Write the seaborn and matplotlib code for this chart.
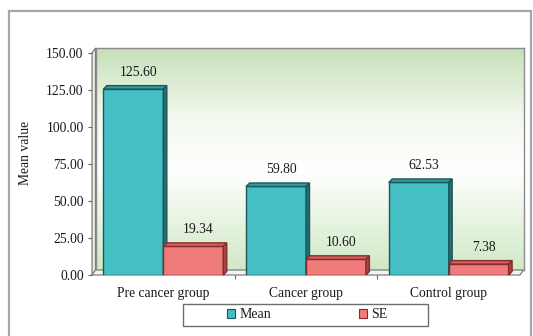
import numpy as np
import pandas as pd
import seaborn as sns
import matplotlib
matplotlib.use("Agg")
import matplotlib.pyplot as plt
from matplotlib.patches import Polygon, Rectangle, Patch
from matplotlib.transforms import IdentityTransform
from matplotlib.colors import LinearSegmentedColormap

# ---- data ----
groups = ["Pre cancer group", "Cancer group", "Control group"]
stats = ["Mean", "SE"]
mean_values = [125.60, 59.80, 62.53]
se_values = [19.34, 10.60, 7.38]
y_ticks = [0, 25, 50, 75, 100, 125, 150]

face_colors = {"Mean": "#45bfc4", "SE": "#f07b7b"}
edge_colors = {"Mean": "#1d5658", "SE": "#842c2c"}
top_colors = {"Mean": "#2f9ca1", "SE": "#d95f5f"}
side_colors = {"Mean": "#1f7074", "SE": "#a94444"}

df = pd.DataFrame({
    "group": groups * 2,
    "stat": ["Mean"] * 3 + ["SE"] * 3,
    "value": mean_values + se_values,
})

W, H = 533, 336
sns.set_theme(style="white")
plt.rcParams["font.family"] = ["Liberation Serif", "DejaVu Serif"]
fig = plt.figure(figsize=(W / 100, H / 100), dpi=100)
fig.patch.set_facecolor("white")
TXT = "#1a1a1a"

def px(x, y):
    """figure pixel position measured from the top-left corner -> display coords"""
    return (x, H - y)

# axes frame in pixels (left, top, right, bottom)
L, T, R, B = 92, 53, 520, 275
DX, DY = 3.5, 5  # depth of the back wall

# back wall with a vertical green-white-green gradient
wall = fig.add_axes([(L + DX) / W, (H - (B - DY)) / H, (R - L) / W, (B - T) / H], zorder=-1)
cmap = LinearSegmentedColormap.from_list(
    "wall", [(0.0, "#d0e9c6"), (0.45, "#ffffff"), (0.7, "#f2f8ee"), (1.0, "#c6e0b9")])
grad = np.linspace(0, 1, 256).reshape(-1, 1)
wall.imshow(grad, aspect="auto", cmap=cmap, origin="lower", extent=[0, 1, 0, 1])
wall.set_xticks([]); wall.set_yticks([])
for s in wall.spines.values():
    s.set_color("#8c8c8c"); s.set_linewidth(1.0)

ax = fig.add_axes([L / W, (H - B) / H, (R - L) / W, (B - T) / H], zorder=1)
ax.set_facecolor("none")

sns.barplot(data=df, x="group", y="value", hue="stat", order=groups, hue_order=stats,
            palette=[face_colors[s] for s in stats], width=0.84, gap=0, saturation=1,
            linewidth=1.0, legend=False, ax=ax)

ax.set_xlim(-0.5, 2.5)
ax.set_ylim(0, 150)
ax.set_xlabel("")
ax.set_ylabel("")
for s in ax.spines.values():
    s.set_visible(False)

# y axis
ax.set_yticks(y_ticks)
ax.set_yticklabels([f"{v:.2f}" for v in y_ticks], fontsize=9.8, color=TXT)
ax.tick_params(axis="y", which="major", left=True, length=3, width=0.8, color="#666666", pad=3)
# x axis: labels at centres, small marks at category boundaries
ax.set_xticks(range(len(groups)))
ax.set_xticklabels(groups, fontsize=9.8, color=TXT)
ax.tick_params(axis="x", which="major", bottom=False, length=0, pad=9)
ax.set_xticks([0.5, 1.5], minor=True)
ax.tick_params(axis="x", which="minor", bottom=True, length=3, width=0.8, color="#666666")

idt = IdentityTransform()
# left side wall and floor
side = Polygon([px(L, B), px(L, T), px(L + DX, T - DY), px(L + DX, B - DY)], closed=True,
               transform=idt, facecolor="#e4eedd", edgecolor="#7f7f7f", linewidth=0.9,
               clip_on=False, zorder=0.5)
floor = Polygon([px(L, B), px(R, B), px(R + DX, B - DY), px(L + DX, B - DY)], closed=True,
                transform=idt, facecolor="#f3f3f3", edgecolor="#7f7f7f", linewidth=0.9,
                clip_on=False, zorder=0.5)
ax.add_patch(side)
ax.add_patch(floor)

# 3-D faces on every bar, drawn left to right so neighbours overlap correctly
bars = []
for stat, cont in zip(stats, ax.containers):
    for patch, val in zip(cont.patches, cont.datavalues):
        bars.append((patch.get_x(), stat, patch, val))
bars.sort(key=lambda b: b[0])

bdx, bdy = 3.5, 3.5
for k, (_, stat, patch, val) in enumerate(bars):
    z = 2 + k
    patch.set_edgecolor(edge_colors[stat])
    patch.set_zorder(z)
    x0, w, h = patch.get_x(), patch.get_width(), patch.get_height()
    (dx0, dy0) = ax.transData.transform((x0, 0))
    (dx1, dy1) = ax.transData.transform((x0 + w, h))
    top = Polygon([(dx0, dy1), (dx1, dy1), (dx1 + bdx, dy1 + bdy), (dx0 + bdx, dy1 + bdy)],
                  closed=True, transform=idt, facecolor=top_colors[stat],
                  edgecolor=edge_colors[stat], linewidth=1.0, clip_on=False, zorder=z + 0.5)
    sidef = Polygon([(dx1, dy0), (dx1, dy1), (dx1 + bdx, dy1 + bdy), (dx1 + bdx, dy0 + bdy)],
                    closed=True, transform=idt, facecolor=side_colors[stat],
                    edgecolor=edge_colors[stat], linewidth=1.0, clip_on=False, zorder=z + 0.5)
    ax.add_patch(top)
    ax.add_patch(sidef)
    ax.annotate(f"{val:.2f}", xy=(x0 + w / 2, h), xytext=(5, 17), textcoords="offset pixels",
                ha="center", va="center", fontsize=9.8, color=TXT, zorder=20)

# y label
fig.text(25.5 / W, (H - 153) / H, "Mean value", rotation=90, ha="center", va="center",
         fontsize=9.8, color=TXT)

# legend: a framed box with the two entries spread inside it
fig.add_artist(Rectangle((183 / W, (H - 326) / H), (427.5 - 183) / W, 22 / H,
                         transform=fig.transFigure, facecolor="white", edgecolor="#6e6e6e",
                         linewidth=1.0, zorder=3))
handles = [Patch(facecolor=face_colors[s], edgecolor=edge_colors[s], linewidth=0.8) for s in stats]
leg = fig.legend(handles, stats, ncol=2, loc="center",
                 bbox_to_anchor=(307 / W, (H - 315) / H), fontsize=10, frameon=False,
                 handlelength=0.6, handleheight=0.6, handletextpad=0.3,
                 columnspacing=6.3, borderaxespad=0, borderpad=0)
leg.set_zorder(4)
for t in leg.get_texts():
    t.set_color(TXT)

# outer chart border
fig.add_artist(Rectangle((8.5 / W, -0.05), (531 - 8.5) / W, (H - 11) / H + 0.05,
                         transform=fig.transFigure, facecolor="none", edgecolor="#a6a6a6",
                         linewidth=1.6, zorder=-5))

fig.savefig("out.png", dpi=100)
